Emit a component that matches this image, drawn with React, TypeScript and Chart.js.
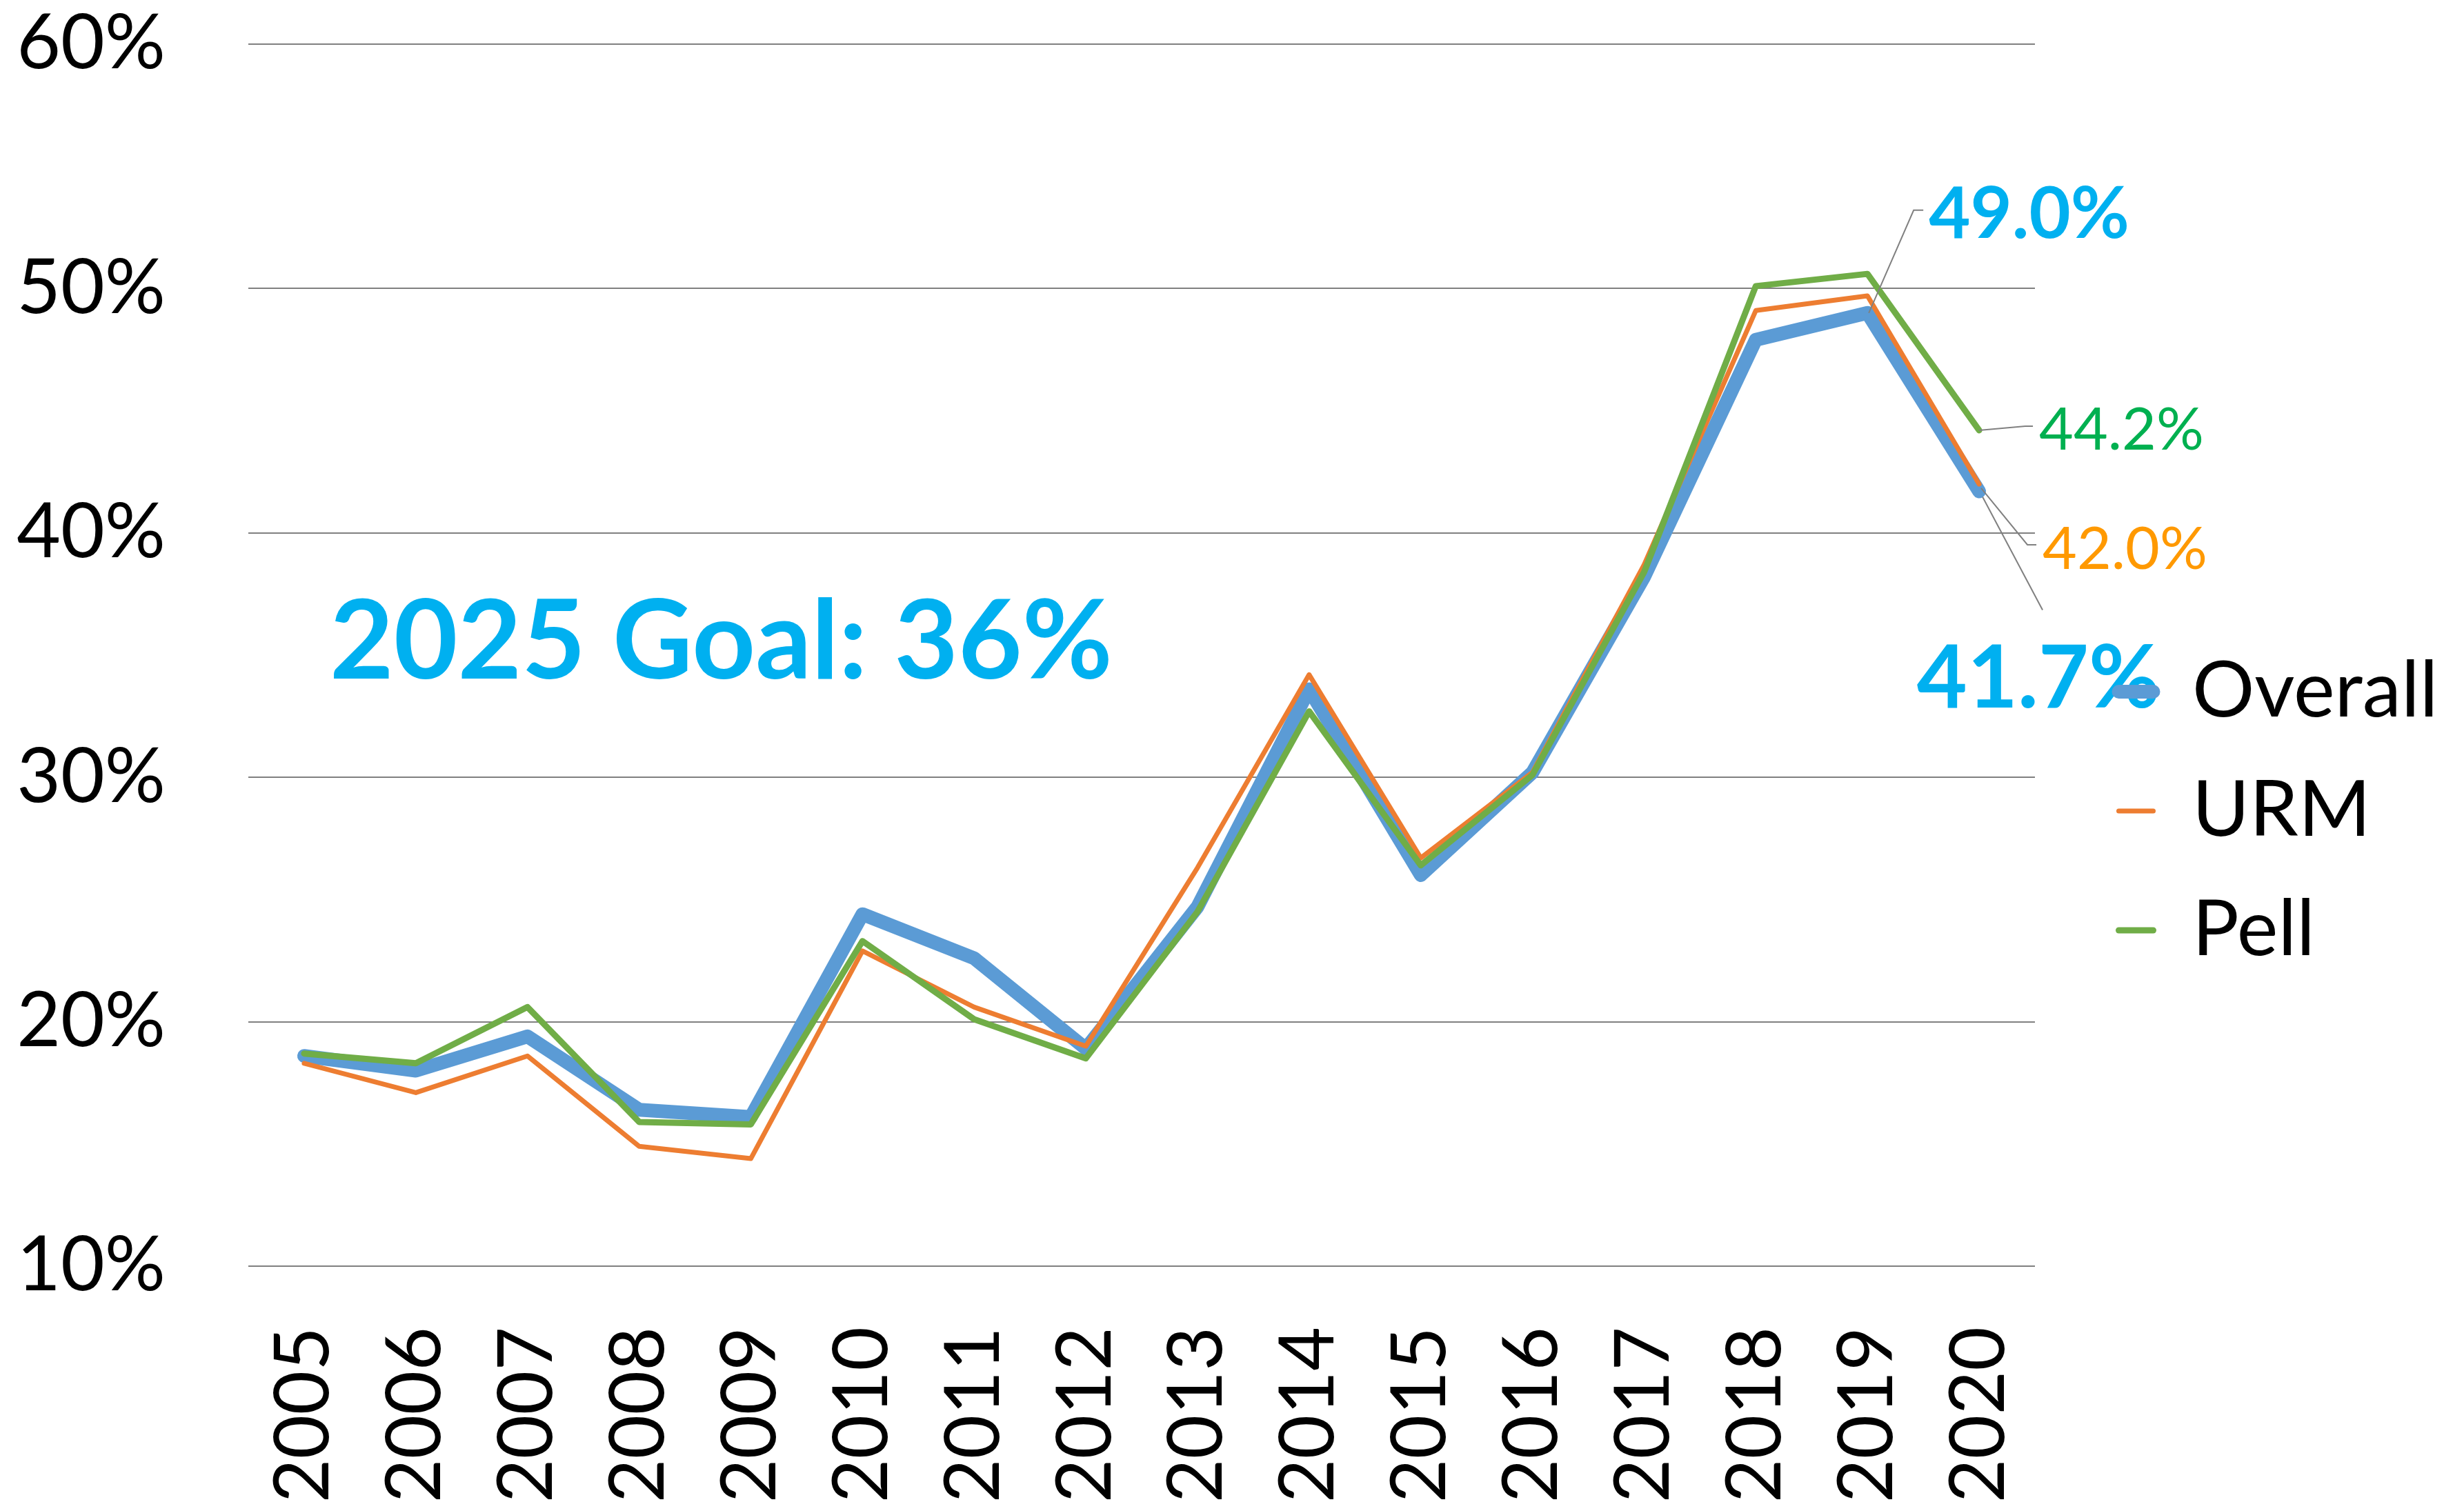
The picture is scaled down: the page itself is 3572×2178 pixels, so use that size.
import React, { useEffect, useRef } from 'react';
import { Chart, registerables } from 'chart.js';

Chart.register(...registerables);

// ---- data ----
const years = ['2005', '2006', '2007', '2008', '2009', '2010', '2011', '2012', '2013', '2014', '2015', '2016', '2017', '2018', '2019', '2020'];
const overall = [18.6, 18.0, 19.4, 16.4, 16.1, 24.4, 22.6, 18.9, 24.7, 33.6, 26.0, 30.2, 38.2, 47.9, 49.0, 41.7];
const urm = [18.3, 17.1, 18.6, 14.9, 14.4, 22.9, 20.6, 19.0, 26.3, 34.2, 26.7, 30.2, 38.7, 49.1, 49.7, 42.0];
const pell = [18.7, 18.3, 20.6, 15.9, 15.8, 23.3, 20.1, 18.5, 24.5, 32.7, 26.4, 30.1, 38.4, 50.1, 50.6, 44.2];
const seriesNames = ['Overall', 'URM', 'Pell'];
const yTickValues = [10, 20, 30, 40, 50, 60];
const goalLevel = 36;
const goalText = '2025 Goal: 36%';

const FONT = 'Lato';
const BLUE = '#5B9BD5';
const ORANGE = '#ED7D31';
const GREEN = '#70AD47';
const LEGEND_LEFT = 3011.5;

type Callout = {
  values: number[];
  index: number;
  color: string;
  font: string;
  path: [number, number][];
  text: [number, number];
  align: CanvasTextAlign;
};

const callouts: Callout[] = [
  { values: overall, index: 14, color: '#00B0F0', font: `bold 104px ${FONT}`, path: [[2, 0], [67, -149], [81, -149]], text: [89, -109], align: 'left' },
  { values: pell, index: 15, color: '#00B050', font: `86px ${FONT}`, path: [[0, 0], [67, -6], [78, -6]], text: [87, 28], align: 'left' },
  { values: urm, index: 15, color: '#FF9900', font: `86px ${FONT}`, path: [[3, 6], [70, 88], [83, 88]], text: [92, 123], align: 'left' },
  { values: overall, index: 15, color: '#00B0F0', font: `bold 126px ${FONT}`, path: [[5, 8], [92, 172]], text: [86, 313], align: 'center' },
];

const annotationPlugin = {
  id: 'annotationPlugin',
  beforeDraw(chart: any) {
    const { ctx, scales } = chart;
    const x = scales.x;
    const y = scales.y;
    ctx.save();
    ctx.textBaseline = 'alphabetic';
    ctx.font = `bold 160px ${FONT}`;
    ctx.fillStyle = '#00B0F0';
    ctx.textAlign = 'left';
    ctx.fillText(goalText, x.getPixelForValue(0) + 37, y.getPixelForValue(goalLevel) + 69);
    callouts.forEach((c) => {
      const px = x.getPixelForValue(c.index);
      const py = y.getPixelForValue(c.values[c.index]);
      ctx.font = c.font;
      ctx.fillStyle = c.color;
      ctx.textAlign = c.align;
      ctx.fillText(`${c.values[c.index].toFixed(1)}%`, px + c.text[0], py + c.text[1]);
    });
    ctx.restore();
  },
  afterDatasetsDraw(chart: any) {
    const { ctx, scales } = chart;
    const x = scales.x;
    const y = scales.y;
    ctx.save();
    ctx.strokeStyle = '#808080';
    ctx.lineWidth = 2;
    callouts.forEach((c) => {
      const px = x.getPixelForValue(c.index);
      const py = y.getPixelForValue(c.values[c.index]);
      ctx.beginPath();
      c.path.forEach(([dx, dy], i) => {
        if (i === 0) ctx.moveTo(px + dx, py + dy);
        else ctx.lineTo(px + dx, py + dy);
      });
      ctx.stroke();
    });
    ctx.restore();
  },
};

export default function App() {
  const ref = useRef<HTMLCanvasElement>(null);

  useEffect(() => {
    document.body.style.margin = '0';
    Chart.defaults.font.family = FONT;
    const chart = new Chart(ref.current as HTMLCanvasElement, {
      type: 'line',
      data: {
        labels: years,
        datasets: [
          { label: seriesNames[0], data: overall, borderColor: BLUE, backgroundColor: BLUE, borderWidth: 20, order: 3, yAxisID: 'y' },
          { label: seriesNames[1], data: urm, borderColor: ORANGE, backgroundColor: ORANGE, borderWidth: 7, order: 2, yAxisID: 'y' },
          { label: seriesNames[2], data: pell, borderColor: GREEN, backgroundColor: GREEN, borderWidth: 9, order: 1, yAxisID: 'y' },
        ].map((d) => ({ ...d, pointRadius: 0, pointHoverRadius: 0, tension: 0, fill: false, borderCapStyle: 'round' as const, borderJoinStyle: 'round' as const })),
      },
      options: {
        responsive: false,
        animation: false,
        events: [],
        layout: { padding: { top: 64, right: 40, bottom: 0, left: 0 } },
        scales: {
          x: {
            type: 'category',
            offset: true,
            grid: { display: false, drawTicks: false },
            border: { display: false },
            ticks: {
              autoSkip: false,
              minRotation: 90,
              maxRotation: 90,
              padding: 88,
              color: '#000',
              font: { family: FONT, size: 110 },
            },
            afterFit: (s: any) => { s.height = 342; },
          },
          y: {
            type: 'linear',
            position: 'left',
            min: 10,
            max: 60,
            afterBuildTicks: (s: any) => { s.ticks = yTickValues.map((v) => ({ value: v })); },
            grid: { color: '#808080', lineWidth: 2, drawTicks: true, tickLength: 120, tickColor: 'rgba(0,0,0,0)' },
            border: { display: false },
            ticks: {
              padding: 0,
              color: '#000',
              font: { family: FONT, size: 110, lineHeight: 1 },
              callback: (v: any) => `${v}%`,
            },
            afterFit: (s: any) => { s.width = 360; },
          },
          yR: {
            type: 'linear',
            position: 'right',
            display: true,
            grid: { display: false, drawTicks: false },
            border: { display: false },
            ticks: { display: false },
            afterFit: (s: any) => { s.width = 61.5; },
          },
        },
        plugins: {
          tooltip: { enabled: false },
          legend: {
            display: true,
            position: 'right',
            align: 'center',
            title: { display: true, text: '', padding: { top: 50, bottom: 50 }, font: { size: 10, lineHeight: 1 } },
            labels: {
              usePointStyle: true,
              pointStyleWidth: 50,
              padding: 60,
              color: '#000',
              font: { family: FONT, size: 113 },
              generateLabels: (c: any) =>
                c.data.datasets.map((ds: any, i: number) => ({
                  text: ds.label,
                  fillStyle: ds.borderColor,
                  strokeStyle: ds.borderColor,
                  lineWidth: ds.borderWidth,
                  lineCap: 'round',
                  lineJoin: 'round',
                  pointStyle: 'line',
                  hidden: false,
                  datasetIndex: i,
                  fontColor: '#000',
                })),
            },
          },
        },
      },
      plugins: [annotationPlugin],
    } as any);

    let alive = true;
    const fitLegend = () => {
      if (!alive) return;
      for (let k = 0; k < 3; k++) {
        const legend = (chart as any).legend;
        if (!legend) break;
        const dl = legend.left - LEGEND_LEFT;
        if (Math.abs(dl) < 0.5) break;
        const pad = (chart.options as any).layout.padding;
        pad.right = Math.max(0, pad.right + dl);
        chart.update();
      }
    };
    fitLegend();
    const fonts = (document as any).fonts;
    if (fonts && fonts.load) {
      Promise.all([fonts.load(`110px ${FONT}`), fonts.load(`bold 110px ${FONT}`)])
        .then(() => { if (alive) { chart.update(); fitLegend(); } })
        .catch(() => {});
    }
    return () => { alive = false; chart.destroy(); };
  }, []);

  return (
    <div style={{ position: 'absolute', left: 0, top: 0, width: 3572, height: 2178, background: '#fff' }}>
      <canvas ref={ref} width={3572} height={2178} style={{ display: 'block', width: 3572, height: 2178 }} />
    </div>
  );
}
